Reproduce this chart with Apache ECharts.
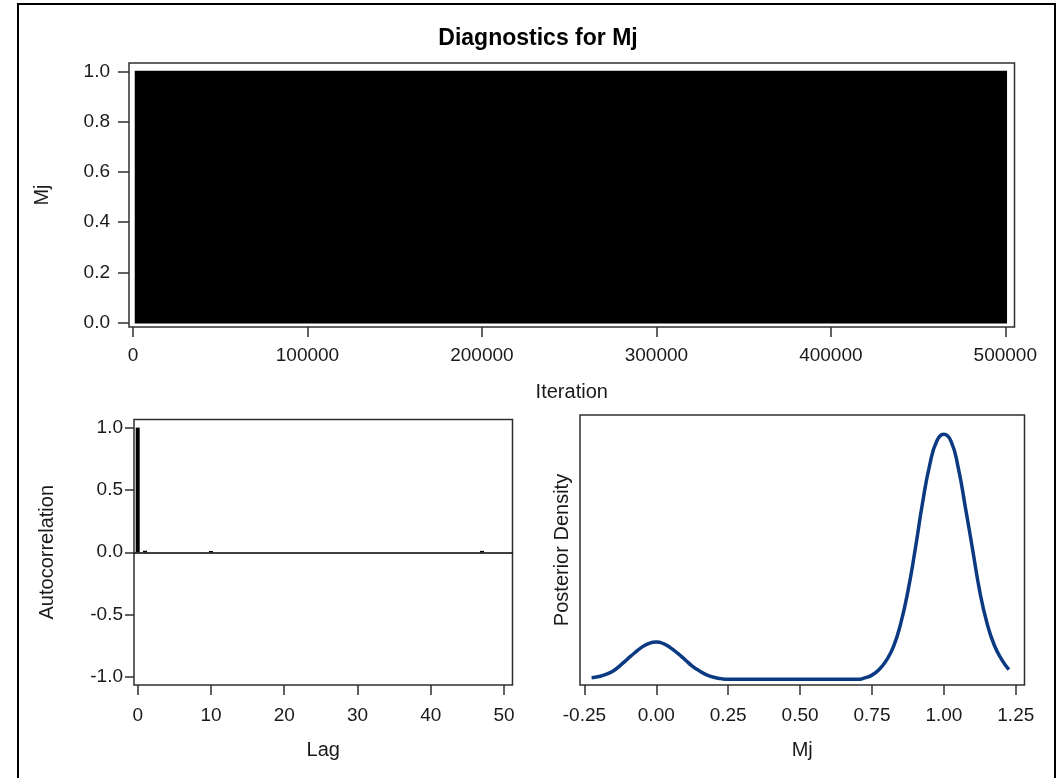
<!DOCTYPE html>
<html>
<head>
<meta charset="utf-8">
<title>Diagnostics for Mj</title>
<script src="https://cdn.jsdelivr.net/npm/echarts@6/dist/echarts.min.js"></script>
<style>
  html, body { margin: 0; padding: 0; background: #fff; }
  #chart { width: 1057px; height: 778px; }
</style>
</head>
<body>
<div id="chart"></div>
<script>
// ---- Trace panel: Mj sampled as 0/1 over the post burn-in iterations ----
const traceSpan = [1001, 501000];          // first and last kept iteration
const traceStates = [0, 1];                // values the chain visits
const iterationTicks = [0, 100000, 200000, 300000, 400000, 500000];
const mjTicks = [0, 0.2, 0.4, 0.6, 0.8, 1.0];

// ---- Autocorrelation panel ----
const lags = [0, 1, 2, 3, 4, 5, 6, 7, 8, 9, 10, 11, 12, 13, 14, 15, 16, 17, 18, 19, 20,
  21, 22, 23, 24, 25, 26, 27, 28, 29, 30, 31, 32, 33, 34, 35, 36, 37, 38, 39, 40,
  41, 42, 43, 44, 45, 46, 47, 48, 49, 50];
const acfValues = [1.0, 0.012, 0, 0, 0, 0, 0, 0, 0, 0, 0.010, 0, 0, 0, 0, 0, 0, 0, 0, 0, 0,
  0, 0, 0, 0, 0, 0, 0, 0, 0, 0, 0, 0, 0, 0, 0, 0, 0, 0, 0, 0,
  0, 0, 0, 0, 0, 0, 0.011, 0, 0, 0];
const lagTicks = [0, 10, 20, 30, 40, 50];
const acfTicks = [-1, -0.5, 0, 0.5, 1];

// ---- Posterior density panel (kernel density estimate) ----
const densityX = [-0.225, -0.200, -0.175, -0.150, -0.125, -0.100, -0.075, -0.050, -0.025,
  0.000, 0.025, 0.050, 0.075, 0.100, 0.125, 0.150, 0.175, 0.200, 0.225, 0.250,
  0.300, 0.400, 0.500, 0.600, 0.700, 0.725, 0.750, 0.775, 0.800, 0.825, 0.850,
  0.875, 0.900, 0.925, 0.950, 0.975, 1.000, 1.025, 1.050, 1.075, 1.100, 1.125,
  1.150, 1.175, 1.200, 1.226];
const densityY = [0.023, 0.040, 0.070, 0.120, 0.200, 0.290, 0.380, 0.460, 0.515,
  0.533, 0.510, 0.450, 0.370, 0.280, 0.190, 0.120, 0.065, 0.030, 0.010, 0.000,
  0.000, 0.000, 0.000, 0.000, 0.000, 0.020, 0.060, 0.140, 0.270, 0.470, 0.800,
  1.260, 1.850, 2.500, 3.050, 3.400, 3.500, 3.400, 3.020, 2.450, 1.850, 1.250,
  0.800, 0.490, 0.290, 0.140];
const densityTicks = [-0.25, 0, 0.25, 0.5, 0.75, 1.0, 1.25];

const FONT = "'Liberation Sans', Arial, sans-serif";
const TEXT = '#1a1a1a';
const FRAME = '#2f2f2f';

function valueAxis(opts) {
  return Object.assign({
    type: 'value',
    splitLine: { show: false },
    axisLine: { show: false, onZero: false },
    nameLocation: 'middle',
    nameTextStyle: { color: TEXT, fontFamily: FONT, fontSize: 20 }
  }, opts);
}

function ticks(values, length) {
  return { show: true, inside: false, length: length, customValues: values,
    lineStyle: { color: FRAME, width: 1.5 } };
}

function labels(values, margin, fmt) {
  return { color: TEXT, fontFamily: FONT, fontSize: 19, margin: margin,
    customValues: values, formatter: fmt };
}

const gridStyle = { show: true, borderColor: FRAME, borderWidth: 1.5, backgroundColor: 'transparent', containLabel: false };

const chart = echarts.init(document.getElementById('chart'), null, { renderer: 'canvas' });

chart.setOption({
  animation: false,
  backgroundColor: '#fff',
  title: {
    text: 'Diagnostics for Mj',
    left: 533,
    textAlign: 'center',
    top: 22,
    textStyle: { color: '#000', fontFamily: FONT, fontSize: 23, fontWeight: 'bold' }
  },
  graphic: [{
    type: 'rect',
    shape: { x: 18, y: 4, width: 1037, height: 800 },
    style: { fill: 'none', stroke: '#000', lineWidth: 2 },
    silent: true,
    z: 100
  }],
  grid: [
    Object.assign({ left: 129, top: 63, width: 885.5, height: 264 }, gridStyle),
    Object.assign({ left: 134, top: 419.5, width: 378.5, height: 265.5 }, gridStyle),
    Object.assign({ left: 580, top: 415, width: 444.5, height: 270 }, gridStyle)
  ],
  xAxis: [
    valueAxis({
      gridIndex: 0, min: -2293, max: 505273,
      name: 'Iteration', nameGap: 55,
      axisTick: ticks(iterationTicks, 10),
      axisLabel: labels(iterationTicks, 19, v => String(v))
    }),
    valueAxis({
      gridIndex: 1, min: -0.505, max: 51.16,
      name: 'Lag', nameGap: 55,
      axisTick: ticks(lagTicks, 10),
      axisLabel: labels(lagTicks, 21, v => String(v))
    }),
    valueAxis({
      gridIndex: 2, min: -0.2653, max: 1.2803,
      name: 'Mj', nameGap: 55,
      axisTick: ticks(densityTicks, 10),
      axisLabel: labels(densityTicks, 21, v => v.toFixed(2))
    })
  ],
  yAxis: [
    valueAxis({
      gridIndex: 0, min: -0.018, max: 1.0347,
      name: 'Mj', nameGap: 77,
      axisTick: ticks(mjTicks, 11),
      axisLabel: labels(mjTicks, 19, v => v.toFixed(1))
    }),
    valueAxis({
      gridIndex: 1, min: -1.065, max: 1.065,
      name: 'Autocorrelation', nameGap: 77,
      axisTick: ticks(acfTicks, 9),
      axisLabel: labels(acfTicks, 11, v => v.toFixed(1))
    }),
    valueAxis({
      gridIndex: 2, min: -0.081, max: 3.776,
      name: 'Posterior Density', nameGap: 8,
      axisTick: { show: false },
      axisLabel: { show: false }
    })
  ],
  series: [
    {
      // trace of the chain: the 0/1 states alternate so densely the band is solid
      type: 'custom',
      xAxisIndex: 0,
      yAxisIndex: 0,
      clip: true,
      data: [[traceSpan[0], traceSpan[1], traceStates[0], traceStates[1]]],
      encode: { x: [0, 1], y: [2, 3] },
      renderItem: function (params, api) {
        const p0 = api.coord([api.value(0), api.value(3)]);
        const p1 = api.coord([api.value(1), api.value(2)]);
        return {
          type: 'rect',
          shape: { x: p0[0], y: p0[1] - 1, width: p1[0] - p0[0], height: p1[1] - p0[1] + 2 },
          style: { fill: '#000' }
        };
      }
    },
    {
      type: 'bar',
      xAxisIndex: 1,
      yAxisIndex: 1,
      barWidth: 4,
      itemStyle: { color: '#000' },
      data: lags.map((l, i) => [l, acfValues[i]]),
      markLine: {
        silent: true,
        symbol: 'none',
        label: { show: false },
        lineStyle: { color: '#000', width: 1.5, type: 'solid' },
        data: [{ yAxis: 0 }]
      }
    },
    {
      type: 'line',
      xAxisIndex: 2,
      yAxisIndex: 2,
      showSymbol: false,
      smooth: 0.5,
      lineStyle: { color: '#0b3a82', width: 3.5, join: 'round' },
      data: densityX.map((x, i) => [x, densityY[i]])
    }
  ]
});
</script>
</body>
</html>
